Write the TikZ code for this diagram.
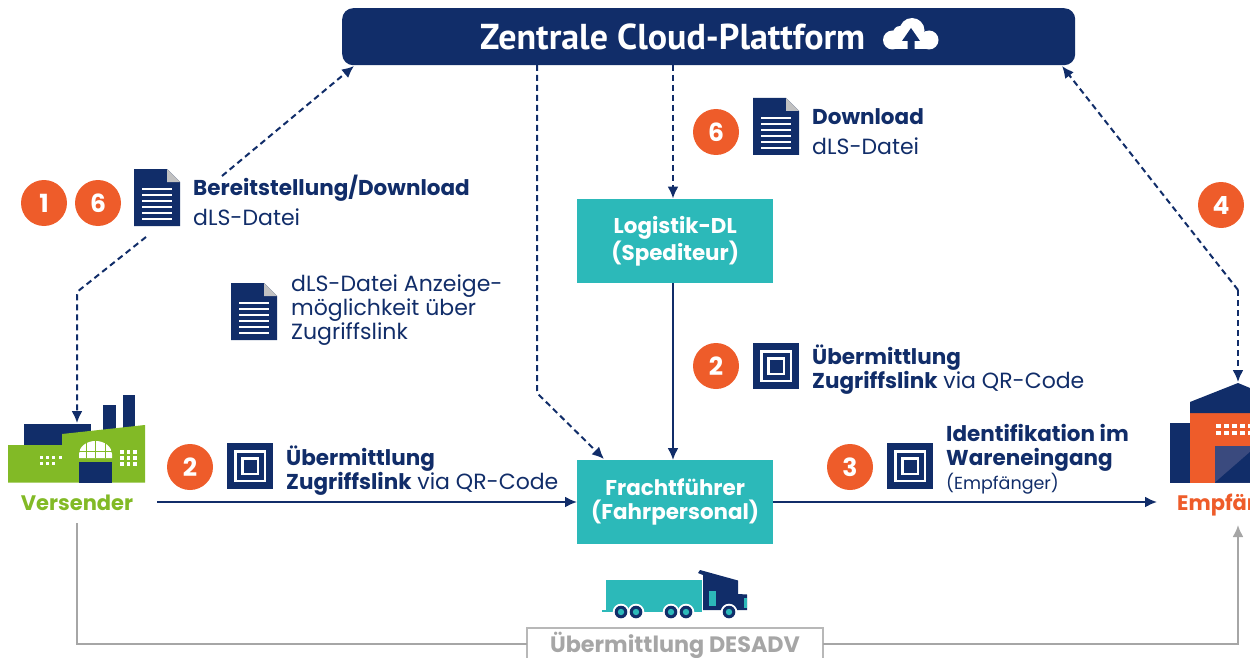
\documentclass[tikz,border=0pt]{standalone}
\usepackage{fontspec}
\setmainfont{Poppins}
\newfontfamily\titlefont{PT Sans}
\usetikzlibrary{arrows.meta,calc}
\definecolor{navy}{HTML}{112D69}
\definecolor{tealb}{HTML}{2CB9B9}
\definecolor{orangeb}{HTML}{EE5C2A}
\definecolor{greenb}{HTML}{82BA26}
\definecolor{grayl}{HTML}{A6A6A6}
\definecolor{doorb}{HTML}{3A4A7E}
\newcommand{\bb}[1]{{\fontsize{21.5}{24}\selectfont\bfseries #1}}
\tikzset{
 badge/.style={circle,fill=orangeb,minimum size=46pt,inner sep=0pt,text=white,font=\fontsize{25}{25}\selectfont\bfseries},
 tealbox/.style={fill=tealb,minimum width=196pt,minimum height=84pt,inner sep=0pt,text=white,align=center,font=\fontsize{21.4}{24}\selectfont\bfseries},
 lbl/.style={anchor=west,inner sep=0pt,text=navy,align=left,font=\fontsize{22}{24}\selectfont},
 dashline/.style={navy,line width=2pt,dash pattern=on 6pt off 4pt,rounded corners=3pt},
 solidline/.style={navy,line width=2pt},
 grayline/.style={grayl,line width=2pt},
 navytip/.style={-{Latex[length=12pt,width=11pt]}},
}
\newcommand{\docicon}[3]{% name, x, y (top-left)
 \node[minimum width=46pt,minimum height=57pt,inner sep=0pt,anchor=north west] (#1) at (#2,#3) {};
 \fill[navy] (#2,#3) -- ++(33,0) -- ++(13,13) -- ++(0,44) -- ++(-46,0) -- cycle;
 \fill[grayl!70] (#2+33,#3) -- ++(13,13) -- ++(-13,0) -- cycle;
 \foreach \yy in {20,26,32,38,44,50}{\fill[white] (#2+8,#3+\yy-1) rectangle (#2+38,#3+\yy+1);}
}
\newcommand{\qricon}[3]{%
 \node[minimum size=46pt,inner sep=0pt,anchor=north west] (#1) at (#2,#3) {};
 \fill[navy] (#2,#3) rectangle ++(46,46);
 \fill[white] (#2+7,#3+7) rectangle ++(32,32);
 \fill[navy] (#2+9.5,#3+9.5) rectangle ++(27,27);
 \fill[white] (#2+14,#3+14) rectangle ++(18,18);
 \fill[navy] (#2+16.5,#3+16.5) rectangle ++(13,13);
}
\begin{document}
\begin{tikzpicture}[x=1pt,y=-1pt]
\useasboundingbox (0,0) rectangle (1250,658);
% platform
\node[fill=navy,rounded corners=11pt,minimum width=733pt,minimum height=57pt,inner sep=0pt,anchor=north west] (cloud) at (342,8) {};
\node[anchor=base west,inner sep=0pt,text=white,font=\titlefont\fontsize{36}{36}\selectfont\bfseries] (title) at (480,50) {Zentrale Cloud-Plattform};
\fill[white] (892.5,40) circle (9.5);
\fill[white] (900,33) circle (7);
\fill[white] (912,30.5) circle (12.5);
\fill[white] (929,40) circle (9.5);
\fill[white] (893,38) rectangle (929,49.5);
\fill[navy] (911,28) -- (920,41) -- (914.5,41) -- (914.5,49.5) -- (907.5,49.5) -- (907.5,41) -- (902,41) -- cycle;
% boxes
\node[tealbox,anchor=north west] (logi) at (577,199) {Logistik-DL\\(Spediteur)};
\node[tealbox,anchor=north west] (fracht) at (577,460) {Frachtführer\\(Fahrpersonal)};
% badges
\node[badge] (b1) at (44,203) {1};
\node[badge] (b6a) at (98,203) {6};
\node[badge] (b6b) at (716,132) {6};
\node[badge] (b2a) at (716,366) {2};
\node[badge] (b2b) at (190,467) {2};
\node[badge] (b3) at (850,467) {3};
\node[badge] (b4) at (1221,205) {4};
% icons
\docicon{d1}{134}{169}
\docicon{d2}{231}{283}
\docicon{d3}{753}{98}
\qricon{q1}{227}{443}
\qricon{q2}{753}{343}
\qricon{q3}{887}{443}
% labels
\node[lbl] (t1) at (193,200.5) {\bb{Bereitstellung/Download}\\[6pt]dLS-Datei};
\node[lbl] (t2) at (291,310) {dLS-Datei Anzeige-\\möglichkeit über\\Zugriffslink};
\node[lbl] (t3) at (812,132) {\bb{Download}\\[6pt]dLS-Datei};
\node[lbl] (t4) at (812,370) {\bb{Übermittlung}\\\bb{Zugriffslink} via QR-Code};
\node[lbl] (t5) at (286,470.5) {\bb{Übermittlung}\\\bb{Zugriffslink} via QR-Code};
\node[lbl] (t6) at (946,459) {\bb{Identifikation im}\\\bb{Wareneingang}\\{\fontsize{17.5}{22}\selectfont (Empfänger)}};
% factory
\fill[navy] (24,424) rectangle (91,446);
\fill[navy] (103,404.5) rectangle (116,432);
\fill[navy] (122.5,395) rectangle (135,429);
\fill[greenb] (8,445) -- (62,445) -- (62,434) -- (145,425) -- (145,482.5) -- (8,482.5) -- cycle;
\fill[navy] (79,462) rectangle (112,482.5);
\fill[white] (79,458) -- (79,454) arc[start angle=180,end angle=360,x radius=16.5,y radius=13] -- (112,458) -- cycle;
\foreach \xx in {86,95.5,105}{\draw[greenb,line width=1pt] (\xx,441) -- (\xx,458);}
\draw[greenb,line width=1pt] (79,451) -- (112,451);
\foreach \xx in {39.5,45.5,51.5,58.5}{\fill[white] (\xx,455.5) rectangle ++(3.5,3.5);}
\foreach \xx in {39.5,45.5,51.5}{\fill[white] (\xx,461.5) rectangle ++(3.5,3.5);}
\foreach \xx in {120,126.5,133}\foreach \yy in {450,456,462}{\fill[white] (\xx,\yy) rectangle ++(3.5,3.5);}
\node[anchor=base,inner sep=0pt,text=greenb,font=\fontsize{21}{24}\selectfont\bfseries] (vers) at (77,510) {Versender};
\coordinate (versTop) at (77,423);
\coordinate (versLine) at (157,502);
\coordinate (versBot) at (77,523);
% warehouse
\fill[navy] (1169.5,423) rectangle (1190,482.5);
\fill[orangeb] (1190,412) rectangle (1250,482.5);
\fill[navy] (1190,402) -- (1238,383) -- (1250,388) -- (1250,413) -- (1190,413) -- cycle;
\fill[doorb] (1215,446) rectangle (1250,482.5);
\fill[navy] (1215,482.5) -- (1250,452) -- (1250,482.5) -- cycle;
\foreach \xx in {1216,1224,1232,1240,1248}\foreach \yy in {424,431}{\fill[white] (\xx,\yy) rectangle ++(4.5,4);}
\begin{scope}
\clip (1170,485) rectangle (1250,520);
\node[anchor=base west,inner sep=0pt,text=orangeb,font=\fontsize{21}{24}\selectfont\bfseries] (empf) at (1177,510) {Empfänger};
\end{scope}
\coordinate (empfTop) at (1238,382);
\coordinate (empfLine) at (1157,502);
\coordinate (empfBot) at (1238,525);
% truck
\fill[tealb] (605.5,580) rectangle (702,610);
\fill[tealb] (602,609.5) rectangle (702,611.5);
\fill[navy] (703,575) -- (698,573) -- (700,570) -- (738,580.5) -- (738,594) -- (747,594.5) -- (747,610) -- (703,610) -- cycle;
\fill[tealb] (709,591) rectangle (716,606);
\fill[tealb] (744,598) rectangle (747,608);
\foreach \xx in {621,636,671,686,729}{
 \fill[white] (\xx,612) circle (8.3);
 \fill[navy] (\xx,612) circle (6.3);
 \fill[tealb] (\xx,612) circle (3.2);
}
% DESADV
\draw[grayl!80,line width=1.6pt] (527,658) -- (527,628) -- (823,628) -- (823,658);
\node[anchor=base,inner sep=0pt,text=grayl,font=\fontsize{22.3}{24}\selectfont\bfseries] (des) at (675,652) {Übermittlung DESADV};
\coordinate (desL) at (527,644);
\coordinate (desR) at (823,644);
% connectors
\coordinate (aS) at (222,176); \coordinate (aE) at (354,66);
\coordinate (bS) at (146,237); \coordinate (bM) at (77,292);
\coordinate (cS) at (537,65); \coordinate (cM) at (537,393); \coordinate (cE) at (604,459);
\coordinate (dS) at (673,65); \coordinate (dE) at (673,198.5);
\coordinate (eS) at (1062,66); \coordinate (eM) at (1238,290);
\coordinate (gL) at (77,644); \coordinate (gR) at (1238,644);
\draw[dashline,navytip] (aS) -- (aE);
\draw[dashline,navytip] (bS) -- (bM) -- (versTop);
\draw[dashline,navytip] (cS) -- (cM) -- (cE);
\draw[dashline,navytip] (dS) -- (dE);
\draw[dashline,navytip] (eM) -- (eS);
\draw[dashline,navytip] (eM) -- (empfTop);
\draw[solidline,navytip] (logi.south -| dS) -- (fracht.north -| dS);
\draw[solidline,navytip] (versLine) -- (fracht.west |- versLine);
\draw[solidline,navytip] (fracht.east |- empfLine) -- (empfLine);
\draw[grayline] (versBot) -- (gL) -- (desL);
\draw[grayline,-{Latex[length=12pt,width=11pt]}] (desR) -- (gR) -- (empfBot);
\end{tikzpicture}
\end{document}
